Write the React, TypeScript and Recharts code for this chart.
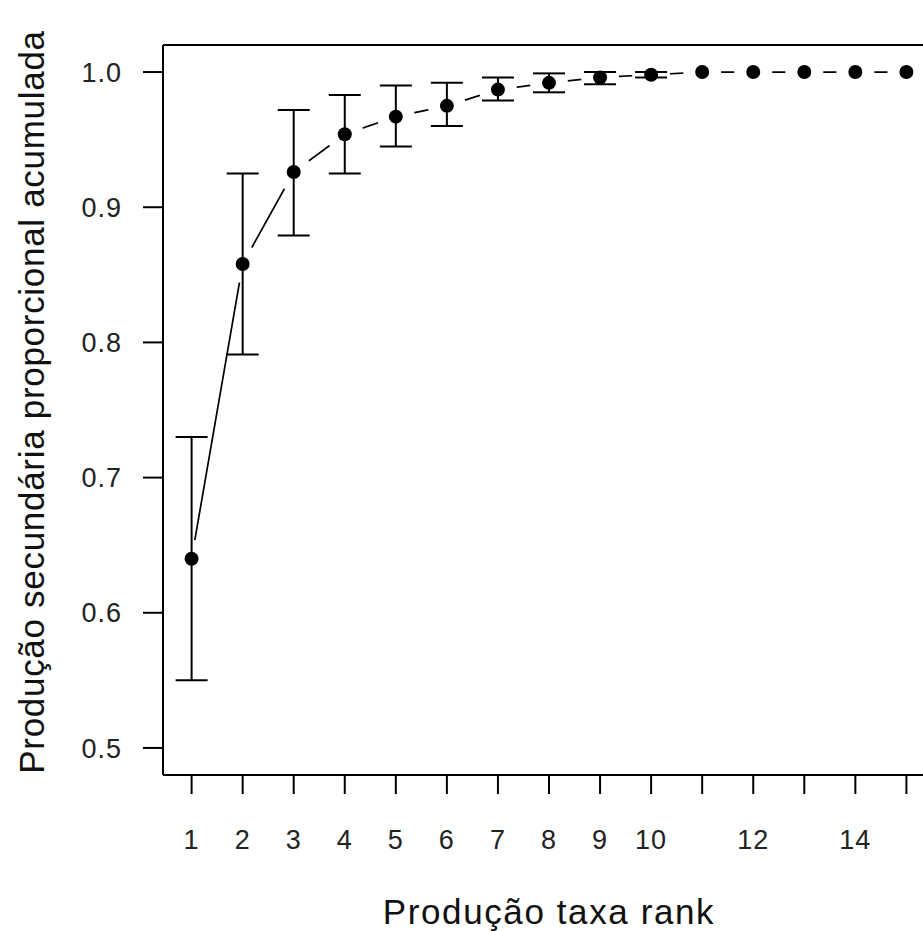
import { LineChart, Line, XAxis, YAxis, ErrorBar, ReferenceLine, Label } from "recharts";

const ranks = [1, 2, 3, 4, 5, 6, 7, 8, 9, 10, 11, 12, 13, 14, 15];
const meanValues = [0.64, 0.858, 0.926, 0.954, 0.967, 0.975, 0.987, 0.992, 0.996, 0.998, 1.0, 1.0, 1.0, 1.0, 1.0];
const lowerValues = [0.55, 0.791, 0.879, 0.925, 0.945, 0.96, 0.979, 0.985, 0.991, 0.996, null, null, null, null, null];
const upperValues = [0.73, 0.925, 0.972, 0.983, 0.99, 0.992, 0.996, 0.999, 1.0, 1.0, null, null, null, null, null];
const xTickLabels = ["1", "2", "3", "4", "5", "6", "7", "8", "9", "10", "", "12", "", "14", ""];
const yTicks = [0.5, 0.6, 0.7, 0.8, 0.9, 1.0];

const xTitle = "Produção taxa rank";
const yTitle = "Produção secundária proporcional acumulada";

const font = "'Liberation Sans', Arial, sans-serif";

const data = ranks.map((rank, i) => {
  const lo = lowerValues[i];
  const hi = upperValues[i];
  return {
    rank,
    value: meanValues[i],
    err: lo == null || hi == null ? undefined : [meanValues[i] - lo, hi - meanValues[i]],
  };
});

const X_DOMAIN: [number, number] = [0.44, 15.56];
const Y_DOMAIN: [number, number] = [0.48, 1.02];

export default function App() {
  return (
    <div style={{ position: "absolute", left: 0, top: 0, fontFamily: font, background: "#fff" }}>
      <LineChart
        width={960}
        height={931}
        data={data}
        margin={{ top: 45, right: 25, left: 0, bottom: 0 }}
      >
        <XAxis
          dataKey="rank"
          type="number"
          domain={X_DOMAIN}
          ticks={ranks}
          allowDataOverflow
          tickFormatter={(v: number) => xTickLabels[ranks.indexOf(v)] ?? ""}
          height={156}
          stroke="#000"
          strokeWidth={2}
          tickSize={19}
          tickMargin={36}
          tickLine={{ stroke: "#000", strokeWidth: 2 }}
          tick={{ fontSize: 27, fill: "#222", fontFamily: font, letterSpacing: 1 }}
          interval={0}
        >
          <Label
            content={(props: any) => {
              const vb = props.viewBox;
              return (
                <text
                  x={vb.x + vb.width / 2}
                  y={vb.y + vb.height - 7}
                  textAnchor="middle"
                  fontSize={35}
                  letterSpacing={1.6}
                  fill="#111"
                  fontFamily={font}
                >
                  {xTitle}
                </text>
              );
            }}
          />
        </XAxis>
        <YAxis
          type="number"
          domain={Y_DOMAIN}
          ticks={yTicks}
          allowDataOverflow
          tickFormatter={(v: number) => v.toFixed(1)}
          width={163}
          stroke="#000"
          strokeWidth={2}
          tickSize={20}
          tickMargin={21}
          tickLine={{ stroke: "#000", strokeWidth: 2 }}
          tick={{ fontSize: 27, fill: "#222", fontFamily: font, letterSpacing: 1 }}
          interval={0}
        >
          <Label
            content={() => {
              const cx = 31;
              const cy = 402;
              return (
                <text
                  x={cx}
                  y={cy}
                  transform={`rotate(-90 ${cx} ${cy})`}
                  textAnchor="middle"
                  dominantBaseline="central"
                  fontSize={35}
                  letterSpacing={0.7}
                  fill="#111"
                  fontFamily={font}
                >
                  {yTitle}
                </text>
              );
            }}
          />
        </YAxis>
        <ReferenceLine y={Y_DOMAIN[1]} stroke="#000" strokeWidth={2} ifOverflow="visible" />
        <ReferenceLine x={X_DOMAIN[1]} stroke="#000" strokeWidth={2} ifOverflow="visible" />
        {/* connecting line, R type="b" style: gaps are cut around each point */}
        <Line
          type="linear"
          dataKey="value"
          stroke="#000"
          strokeWidth={1.7}
          dot={false}
          activeDot={false}
          isAnimationActive={false}
        />
        <Line
          type="linear"
          dataKey="value"
          stroke="none"
          dot={{ r: 19, fill: "#fff", stroke: "none" }}
          activeDot={false}
          isAnimationActive={false}
        />
        <Line
          type="linear"
          dataKey="value"
          stroke="none"
          dot={{ r: 7, fill: "#000", stroke: "none" }}
          activeDot={false}
          isAnimationActive={false}
          zIndex={1500}
        >
          <ErrorBar dataKey="err" direction="y" width={16} stroke="#000" strokeWidth={2} zIndex={1500} />
        </Line>
      </LineChart>
    </div>
  );
}
